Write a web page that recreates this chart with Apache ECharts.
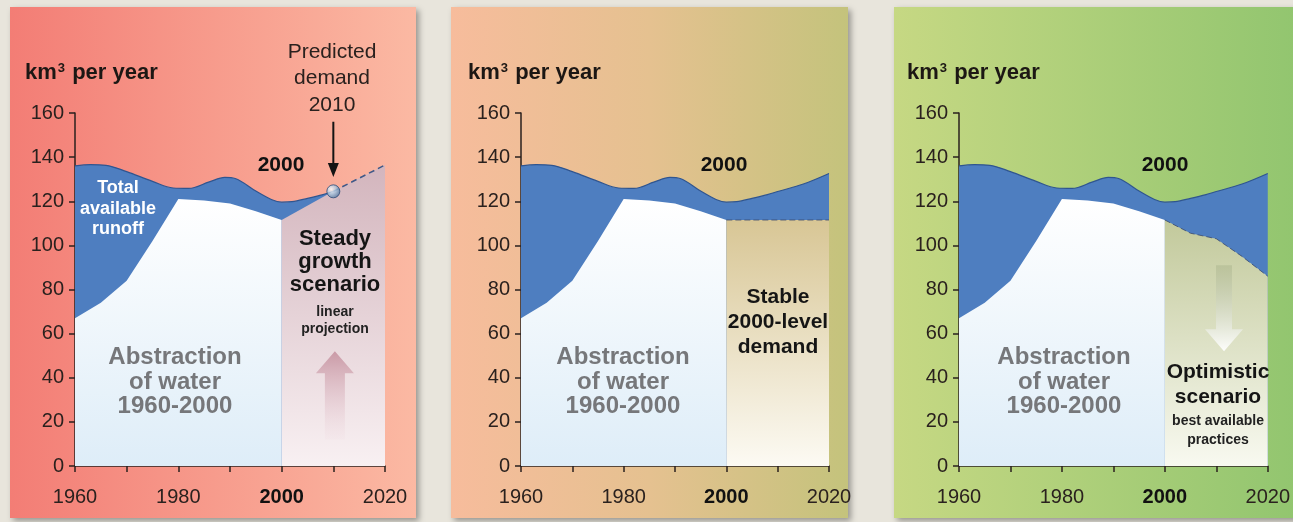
<!DOCTYPE html>
<html>
<head>
<meta charset="utf-8">
<script src="https://cdn.jsdelivr.net/npm/echarts@6/dist/echarts.min.js"></script>
<style>
  html, body { margin: 0; padding: 0; background: #e8e5dc; }
  #chart { width: 1293px; height: 522px; }
</style>
</head>
<body>
<div id="chart"></div>
<script>
// total available runoff (km3 per year)
var runoffYears = [1960, 1963, 1966, 1970, 1975, 1979, 1982, 1986, 1989, 1991, 1995, 1998, 2000, 2002, 2005, 2008, 2010, 2015, 2020]
var runoffValues = [136, 136.6, 136.3, 133.4, 129, 126, 125.8, 128.8, 130.8, 130.3, 124.6, 120.8, 119.6, 119.8, 121.3, 123, 124.4, 127.8, 132.6]
// abstraction of water 1960-2000
var abstractionYears = [1960, 1965, 1970, 1975, 1980, 1985, 1990, 1995, 2000]
var abstractionValues = [67, 74, 84, 102, 121, 120.3, 119, 115.5, 111.5]
// scenarios after 2000
var steadyYears = [2000, 2010, 2020]
var steadyValues = [111.5, 124.5, 136.4]
var stableYears = [2000, 2010, 2020]
var stableValues = [111.5, 111.5, 111.5]
var optimisticYears = [2000, 2005, 2010, 2015, 2020]
var optimisticValues = [111.5, 105.5, 103, 95, 86]
// predicted demand 2010
var predictedPoint = [2010, 124.5]
// annotation arrows [year, from value, to value]
var demandArrow = [2010, 156, 131]
var growthArrow = [2010.3, 12, 52]
var optimisticArrow = [2011.5, 91, 52]
var yTicks = [0, 20, 40, 60, 80, 100, 120, 140, 160]
var xLabels = [1960, 1980, 2000, 2020]

function pairs(xs, ys, upTo) {
    var out = []
    xs.forEach(function (x, i) {
        if (upTo === undefined || x <= upTo) out.push([x, ys[i]])
    })
    return out
}

var FONT = '"Liberation Sans", Arial, sans-serif'
var ink = '#2a211e'
var blue = '#4e7ec0'
var lineBlue = '#2f5590'

function grad(top, bottom) {
    return new echarts.graphic.LinearGradient(0, 0, 0, 1, [
        { offset: 0, color: top }, { offset: 1, color: bottom }
    ])
}

function arrowRender(shaftW, headW, headLen, fill) {
    return function (params, api) {
        var p0 = api.coord([api.value(0), api.value(1)])
        var p1 = api.coord([api.value(0), api.value(2)])
        var x = p0[0]
        var dir = p1[1] > p0[1] ? 1 : -1
        var by = p1[1] - dir * headLen
        return {
            type: 'polygon',
            shape: { points: [
                [x - shaftW / 2, p0[1]], [x + shaftW / 2, p0[1]], [x + shaftW / 2, by],
                [x + headW / 2, by], [x, p1[1]], [x - headW / 2, by], [x - shaftW / 2, by]
            ] },
            style: { fill: fill() }
        }
    }
}

var grids = [
    { left: 75, top: 113, width: 310, height: 353 },
    { left: 521, top: 113, width: 308, height: 353 },
    { left: 959, top: 113, width: 309, height: 353 }
]

function xAxisFor(i) {
    return {
        gridIndex: i, type: 'value', min: 1960, max: 2020, interval: 10,
        axisLine: { lineStyle: { color: ink, width: 1.5 } },
        axisTick: { inside: false, length: 6, lineStyle: { color: ink, width: 1.5 } },
        splitLine: { show: false },
        axisLabel: {
            margin: 21, fontFamily: FONT, fontSize: 20, color: ink,
            formatter: function (v) {
                if (xLabels.indexOf(v) < 0) return ''
                return v === 2000 ? '{b|' + v + '}' : '' + v
            },
            rich: { b: { fontFamily: FONT, fontSize: 20, fontWeight: 'bold', color: '#111' } }
        }
    }
}
function yAxisFor(i) {
    return {
        gridIndex: i, type: 'value', min: 0, max: 160, interval: 20,
        axisLine: { show: true, lineStyle: { color: ink, width: 1.5 } },
        axisTick: { show: true, length: 6, lineStyle: { color: ink, width: 1.5 } },
        splitLine: { show: false },
        axisLabel: {
            margin: 11, fontFamily: FONT, fontSize: 20, color: ink,
            formatter: function (v) { return yTicks.indexOf(v) >= 0 ? '' + v : '' }
        }
    }
}

function runoffSeries(i, upTo) {
    return {
        type: 'line', xAxisIndex: i, yAxisIndex: i, z: 2,
        data: pairs(runoffYears, runoffValues, upTo),
        smooth: 0.35, showSymbol: false, silent: true,
        lineStyle: { color: lineBlue, width: 1.2 },
        areaStyle: { color: blue, opacity: 1 }
    }
}
function abstractionSeries(i) {
    return {
        type: 'line', xAxisIndex: i, yAxisIndex: i, z: 3,
        data: pairs(abstractionYears, abstractionValues),
        showSymbol: false, silent: true,
        lineStyle: { width: 0 },
        areaStyle: { color: grad('#ffffff', '#deedf8'), opacity: 1 }
    }
}
function scenarioSeries(i, xs, ys, top, bottom, dashed) {
    return {
        type: 'line', xAxisIndex: i, yAxisIndex: i, z: 3,
        data: pairs(xs, ys), showSymbol: false, silent: true,
        lineStyle: dashed ? { color: '#34446a', width: 1, type: [6, 3], opacity: 0.75 } : { width: 0 },
        areaStyle: { color: grad(top, bottom), opacity: 1 }
    }
}

var texts = []
function addText(x, y, str, size, weight, color) {
    texts.push({
        type: 'text', x: x, y: y, z: 100,
        style: {
            text: str, fontFamily: FONT, fontSize: size, fontWeight: weight,
            fill: color, align: 'center', verticalAlign: 'middle'
        }
    })
}
function addUnit(x) {
    texts.push({
        type: 'text', x: x, y: 73, z: 100,
        style: {
            text: '{a|km}{s|3}{a| per year}', align: 'left', verticalAlign: 'middle',
            rich: {
                a: { fontFamily: FONT, fontSize: 22, fontWeight: 'bold', fill: '#1c1714' },
                s: { fontFamily: FONT, fontSize: 13, fontWeight: 'bold', fill: '#1c1714', verticalAlign: 'top', padding: [0, 1, 9, 1] }
            }
        }
    })
}

addUnit(25); addUnit(468); addUnit(907)
;[175, 623, 1064].forEach(function (cx) {
    addText(cx, 357, 'Abstraction', 24, 'bold', '#76777a')
    addText(cx, 382, 'of water', 24, 'bold', '#76777a')
    addText(cx, 406, '1960-2000', 24, 'bold', '#76777a')
})
addText(281, 165, '2000', 21, 'bold', '#111')
addText(724, 165, '2000', 21, 'bold', '#111')
addText(1165, 165, '2000', 21, 'bold', '#111')
addText(118, 188, 'Total', 18, 'bold', '#ffffff')
addText(118, 209, 'available', 18, 'bold', '#ffffff')
addText(118, 229, 'runoff', 18, 'bold', '#ffffff')
addText(332, 52, 'Predicted', 21, 'normal', '#2a211e')
addText(332, 78, 'demand', 21, 'normal', '#2a211e')
addText(332, 105, '2010', 21, 'normal', '#2a211e')
addText(335, 239, 'Steady', 22, 'bold', '#151515')
addText(335, 262, 'growth', 22, 'bold', '#151515')
addText(335, 285, 'scenario', 22, 'bold', '#151515')
addText(335, 312, 'linear', 14, 'bold', '#222')
addText(335, 329, 'projection', 14, 'bold', '#222')
addText(778, 297, 'Stable', 21, 'bold', '#151515')
addText(778, 322, '2000-level', 21, 'bold', '#151515')
addText(778, 347, 'demand', 21, 'bold', '#151515')
addText(1218, 372, 'Optimistic', 21, 'bold', '#151515')
addText(1218, 397, 'scenario', 21, 'bold', '#151515')
addText(1218, 421, 'best available', 14, 'bold', '#222')
addText(1218, 440, 'practices', 14, 'bold', '#222')

function panel(x, w, stops) {
    return {
        type: 'rect', z: 0, shape: { x: x, y: 7, width: w, height: 511 },
        style: {
            fill: new echarts.graphic.LinearGradient(0, 0, 1, 0, stops),
            shadowBlur: 6, shadowOffsetX: 3, shadowOffsetY: 3, shadowColor: 'rgba(0,0,0,0.35)'
        }
    }
}

var chart = echarts.init(document.getElementById('chart'))
chart.setOption({
    backgroundColor: '#e8e5dc',
    animation: false,
    graphic: { elements: [
        panel(10, 406, [{ offset: 0, color: '#f37d75' }, { offset: 1, color: '#fbb9a3' }]),
        panel(451, 397, [{ offset: 0, color: '#f7bc9c' }, { offset: 0.5, color: '#e5c190' }, { offset: 1, color: '#c4c37c' }]),
        panel(894, 410, [{ offset: 0, color: '#c6d883' }, { offset: 1, color: '#91c56f' }])
    ].concat(texts) },
    grid: grids,
    xAxis: [xAxisFor(0), xAxisFor(1), xAxisFor(2)],
    yAxis: [yAxisFor(0), yAxisFor(1), yAxisFor(2)],
    series: [
        // panel 1: steady growth
        runoffSeries(0, 2010),
        abstractionSeries(0),
        scenarioSeries(0, steadyYears, steadyValues, '#d3b5bd', '#f8f0f2', false),
        {
            type: 'line', xAxisIndex: 0, yAxisIndex: 0, z: 4, silent: true, showSymbol: false,
            data: pairs(steadyYears, steadyValues).filter(function (p) { return p[0] >= 2010 }),
            lineStyle: { color: '#3e5888', width: 1.5, type: [6, 4] }
        },
        {
            type: 'custom', xAxisIndex: 0, yAxisIndex: 0, z: 5, silent: true,
            data: [growthArrow],
            renderItem: arrowRender(20, 38, 22, function () {
                return grad('rgba(200,150,163,0.95)', 'rgba(240,220,226,0.2)')
            })
        },
        {
            type: 'custom', xAxisIndex: 0, yAxisIndex: 0, z: 5, silent: true,
            data: [demandArrow],
            renderItem: arrowRender(2, 11, 14, function () { return '#141414' })
        },
        {
            type: 'scatter', xAxisIndex: 0, yAxisIndex: 0, z: 6, silent: true,
            data: [predictedPoint], symbolSize: 13,
            itemStyle: {
                color: new echarts.graphic.RadialGradient(0.35, 0.35, 0.75, [
                    { offset: 0, color: '#ffffff' }, { offset: 0.45, color: '#a9c6df' }, { offset: 1, color: '#3f6592' }
                ]),
                borderColor: '#2e4c78', borderWidth: 1
            }
        },
        // panel 2: stable demand
        runoffSeries(1),
        abstractionSeries(1),
        scenarioSeries(1, stableYears, stableValues, '#d8c695', '#fcfaf3', true),
        // panel 3: optimistic
        runoffSeries(2),
        abstractionSeries(2),
        scenarioSeries(2, optimisticYears, optimisticValues, '#c2c99b', '#f8f9f0', true),
        {
            type: 'custom', xAxisIndex: 2, yAxisIndex: 2, z: 5, silent: true,
            data: [optimisticArrow],
            renderItem: arrowRender(16, 38, 22, function () {
                return grad('rgba(170,180,140,0.5)', 'rgba(255,255,255,0.95)')
            })
        }
    ]
})
</script>
</body>
</html>
